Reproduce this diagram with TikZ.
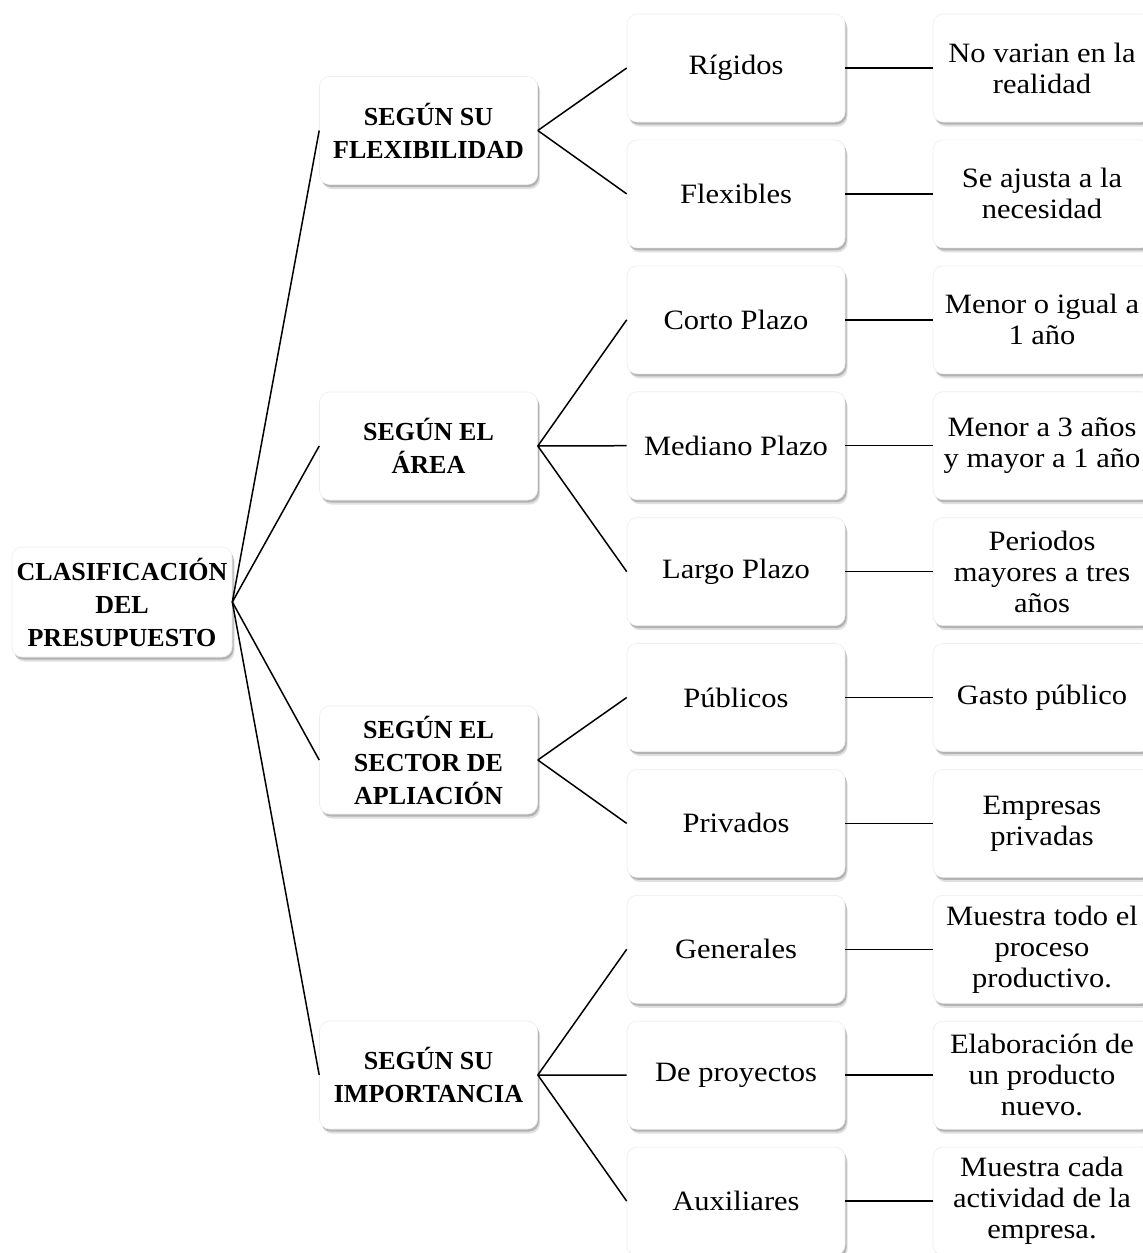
\documentclass[tikz,border=0pt]{standalone}
\usepackage{fontspec}
\setmainfont{Liberation Serif}
\newfontfamily\regf{Liberation Serif}[FakeStretch=1.09]
\usetikzlibrary{shadows}
\tikzset{
  box/.style={rounded corners=10pt, fill=white, draw=black!7, line width=0.6pt,
    minimum width=218pt, minimum height=108pt, align=center, inner sep=2pt,
    drop shadow={shadow xshift=2.5pt, shadow yshift=-4.5pt, opacity=0.12, fill=black},
    drop shadow={shadow xshift=1.5pt, shadow yshift=-2.5pt, opacity=0.2, fill=black}},
  titlebox/.style={box, font={\fontsize{26}{33}\selectfont\bfseries}},
  leafbox/.style={box, font={\regf\fontsize{28}{31}\selectfont}},
  link/.style={draw=black, line width=1.5pt}
}
\begin{document}
\begin{tikzpicture}[x=1pt, y=-1pt]
\useasboundingbox (0,0) rectangle (1143,1253);
\def\pitch{125.9}
% root
\node[titlebox, minimum width=220pt, minimum height=110pt] (root) at (122,602) {CLASIFICACIÓN\\DEL\\PRESUPUESTO};
% level 1
\node[titlebox] (flex) at (428.5,130.5) {SEGÚN SU\\FLEXIBILIDAD};
\node[titlebox] (area) at (428.5,446) {SEGÚN EL\\ÁREA};
\node[titlebox] (sect) at (428.5,760) {SEGÚN EL\\SECTOR DE\\APLIACIÓN};
\node[titlebox] (impo) at (428.5,1075) {SEGÚN SU\\IMPORTANCIA};
% level 2
\node[leafbox] (b0) at (736,68) {Rígidos};
\node[leafbox] (b1) at (736,68+1*\pitch) {Flexibles};
\node[leafbox] (b2) at (736,68+2*\pitch) {Corto Plazo};
\node[leafbox] (b3) at (736,68+3*\pitch) {Mediano Plazo};
\node[leafbox] (b4) at (736,68+4*\pitch) {Largo Plazo};
\node[leafbox] (b5) at (736,68+5*\pitch) {Públicos};
\node[leafbox] (b6) at (736,68+6*\pitch) {Privados};
\node[leafbox] (b7) at (736,68+7*\pitch) {Generales};
\node[leafbox] (b8) at (736,68+8*\pitch) {De proyectos};
\node[leafbox] (b9) at (736,68+9*\pitch) {Auxiliares};
% level 3
\node[leafbox] (c0) at (1042,68) {No varian en la\\realidad};
\node[leafbox] (c1) at (1042,68+1*\pitch) {Se ajusta a la\\necesidad};
\node[leafbox] (c2) at (1042,68+2*\pitch) {Menor o igual a\\1 año};
\node[leafbox] (c3) at (1042,68+3*\pitch) {Menor a 3 años\\y mayor a 1 año};
\node[leafbox] (c4) at (1042,68+4*\pitch) {Periodos\\mayores a tres\\años};
\node[leafbox] (c5) at (1042,68+5*\pitch) {Gasto público};
\node[leafbox] (c6) at (1042,68+6*\pitch) {Empresas\\privadas};
\node[leafbox] (c7) at (1042,68+7*\pitch) {Muestra todo el\\proceso\\productivo.};
\node[leafbox] (c8) at (1042,68+8*\pitch) {Elaboración de\\un producto\\nuevo.};
\node[leafbox] (c9) at (1042,68+9*\pitch) {Muestra cada\\actividad de la\\empresa.};
% connectors
\foreach \t in {flex,area,sect,impo} \draw[link] (root.east) -- (\t.west);
\foreach \t in {b0,b1} \draw[link] (flex.east) -- (\t.west);
\foreach \t in {b2,b3,b4} \draw[link] (area.east) -- (\t.west);
\foreach \t in {b5,b6} \draw[link] (sect.east) -- (\t.west);
\foreach \t in {b7,b8,b9} \draw[link] (impo.east) -- (\t.west);
\foreach \i in {0,...,9} \draw[link] (b\i.east) -- (c\i.west);
\end{tikzpicture}
\end{document}
